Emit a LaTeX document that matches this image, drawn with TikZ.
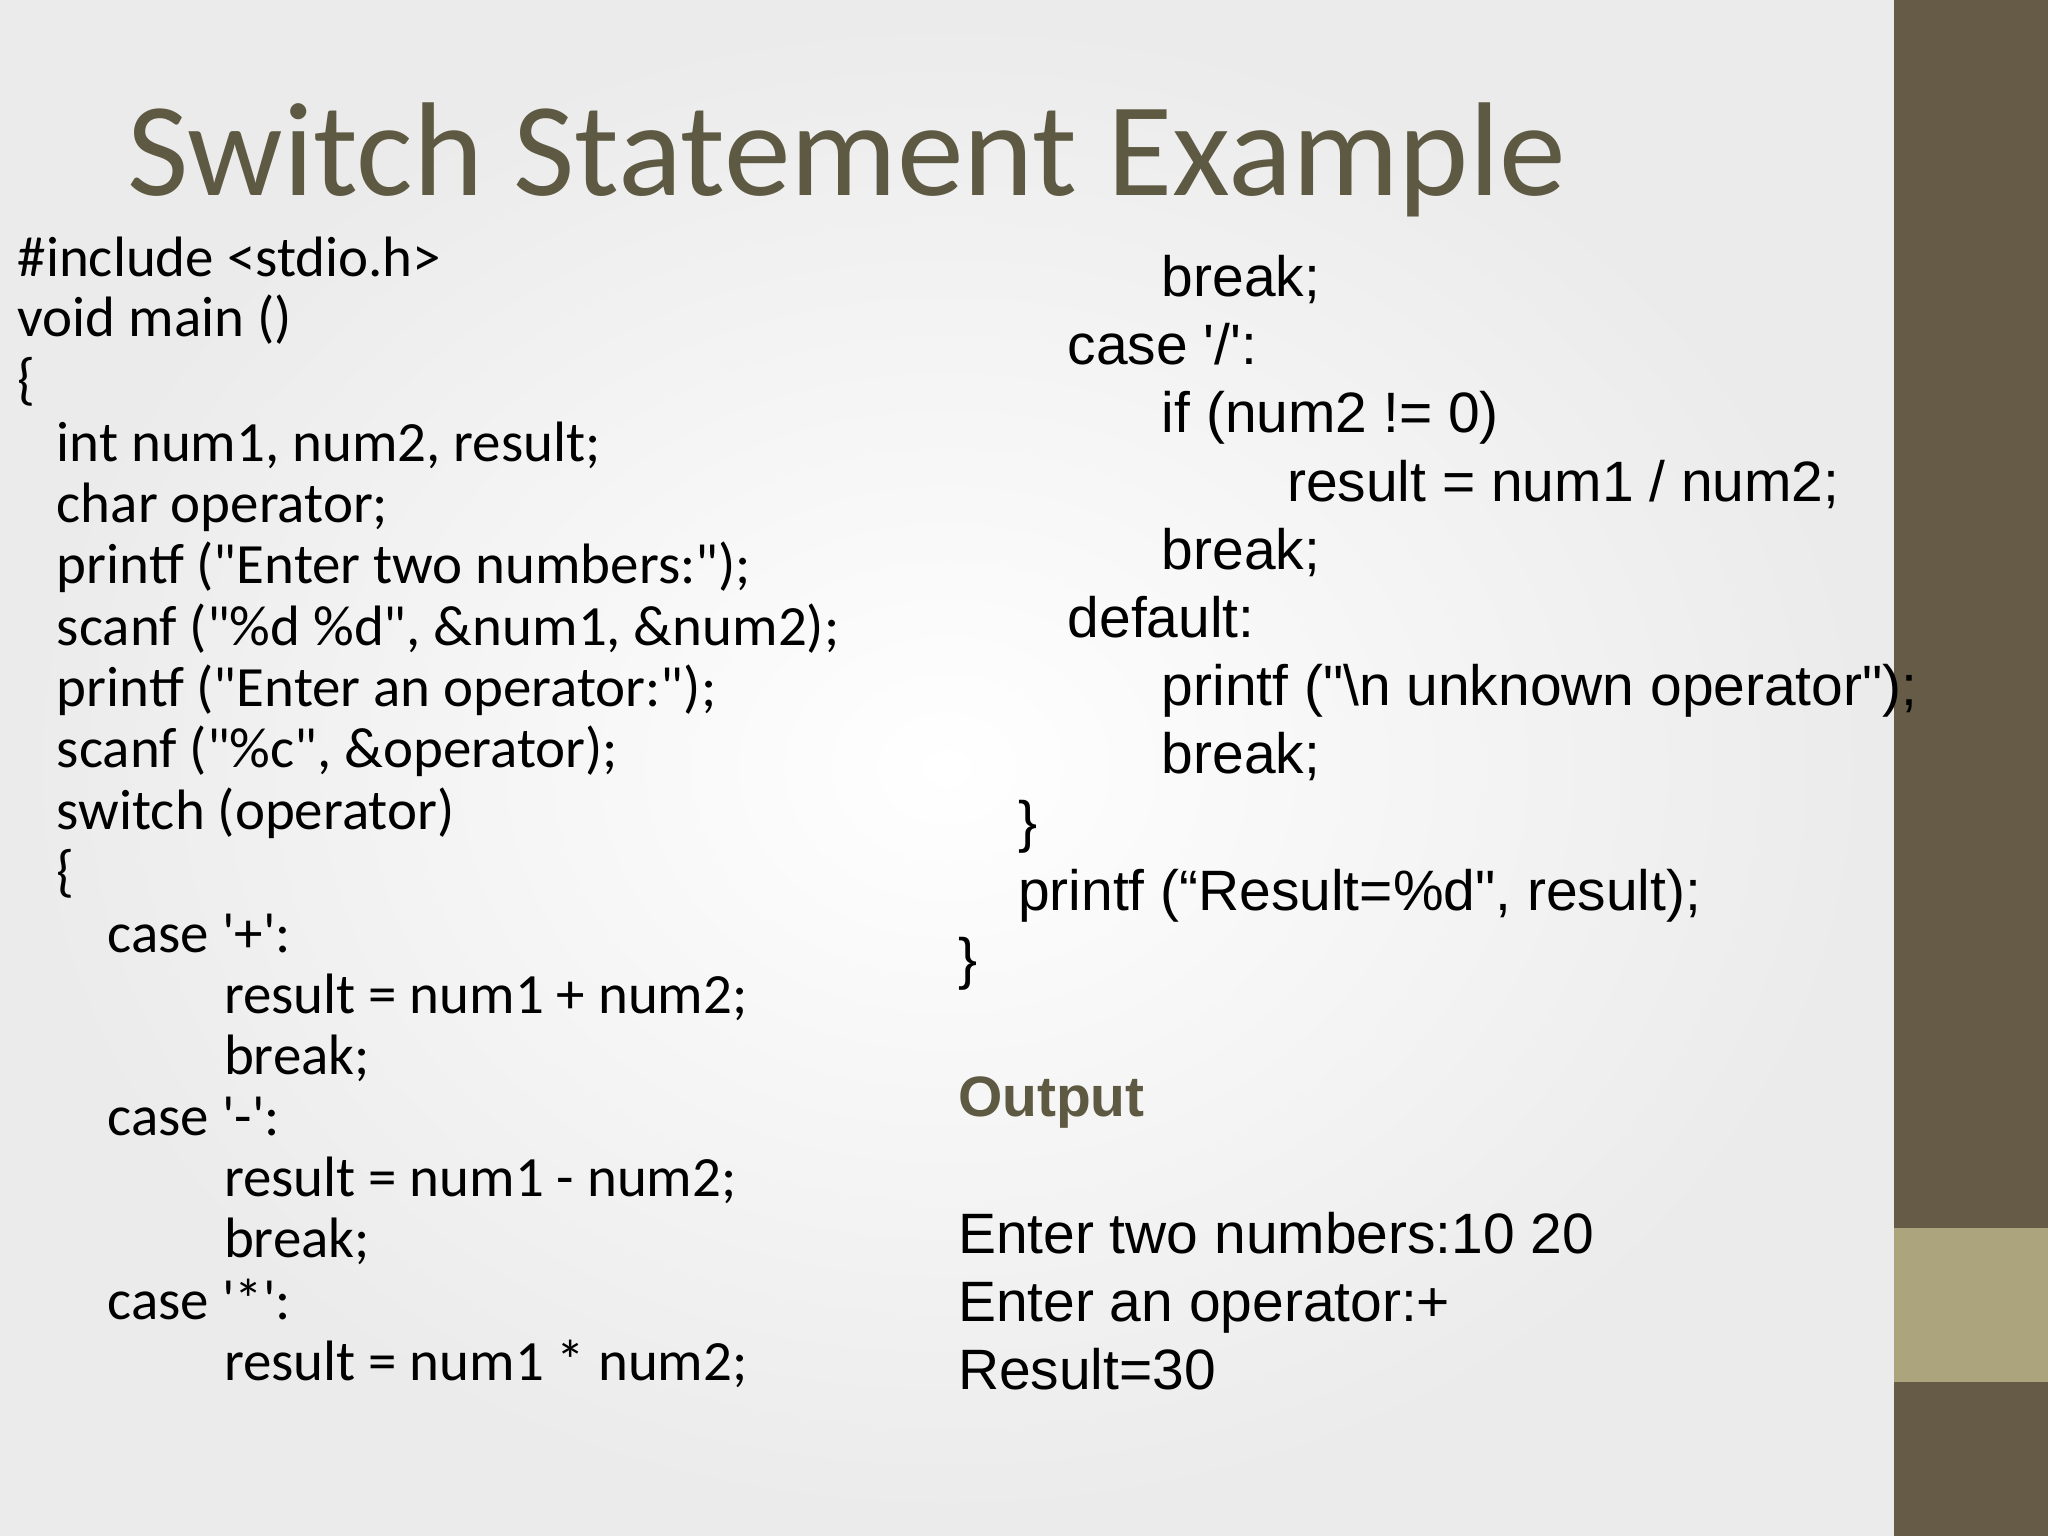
\documentclass[tikz,border=0pt]{standalone}
\usepackage{fontspec}
\newfontfamily\calfnt{Carlito}
\newfontfamily\arifnt{Liberation Sans}
\definecolor{olive}{RGB}{94,89,66}
\definecolor{barD}{RGB}{101,91,70}
\definecolor{barL}{RGB}{172,164,124}
\newcommand{\myq}{\textquotesingle}
\begin{document}
\begin{tikzpicture}[x=0.013061cm,y=-0.013061cm,
  cl/.style={anchor=base west,inner sep=0,font=\calfnt\fontsize{16.2pt}{19pt}\selectfont},
  cr/.style={anchor=base west,inner sep=0,font=\arifnt\fontsize{16.2pt}{19pt}\selectfont}]
\useasboundingbox (0,0) rectangle (1568,1176);
\shade[inner color=white,outer color=black!8] (0,0) rectangle (1450,1176);
\fill[barD] (1450,0) rectangle (1568,1176);
\fill[barL] (1450,940) rectangle (1568,1058);
\node[anchor=base west,inner sep=0,text=olive,font=\calfnt\fontsize{38pt}{44pt}\selectfont] (title) at (97,150) {Switch Statement Example};
\node[cl] (l1) at (13,212) {\#include <stdio.h>};
\node[cl] (l2) at (13,258) {void main ()};
\node[cl] (l3) at (13,305) {\{};
\node[cl] (l4) at (43,353) {int num1, num2, result;};
\node[cl] (l5) at (43,400) {char operator;};
\node[cl] (l6) at (43,447) {printf ("Enter two numbers:");};
\node[cl] (l7) at (43,494) {scanf ("\%d \%d", \&num1, \&num2);};
\node[cl] (l8) at (43,541) {printf ("Enter an operator:");};
\node[cl] (l9) at (43,588) {scanf ("\%c", \&operator);};
\node[cl] (l10) at (43,635) {switch (operator)};
\node[cl] (l11) at (43,682) {\{};
\node[cl] (l12) at (82,729) {case \myq+\myq:};
\node[cl] (l13) at (171,776) {result = num1 + num2;};
\node[cl] (l14) at (171,823) {break;};
\node[cl] (l15) at (82,869) {case \myq-\myq:};
\node[cl] (l16) at (171,916) {result = num1 - num2;};
\node[cl] (l17) at (171,963) {break;};
\node[cl] (l18) at (82,1010) {case \myq*\myq:};
\node[cl] (l19) at (171,1057) {result = num1 * num2;};
\node[cr] (r1) at (889,227) {break;};
\node[cr] (r2) at (817,279) {case \myq/\myq:};
\node[cr] (r3) at (889,331) {if (num2 != 0)};
\node[cr] (r4) at (985,384) {result = num1 / num2;};
\node[cr] (r5) at (889,436) {break;};
\node[cr] (r6) at (817,488) {default:};
\node[cr] (r7) at (889,540) {printf ("\textbackslash n unknown operator");};
\node[cr] (r8) at (889,592) {break;};
\node[cr] (r9) at (779,644) {\}};
\node[cr] (r10) at (779,697) {printf (“Result=\%d", result);};
\node[cr] (r11) at (733,749) {\}};
\node[cr,font=\arifnt\bfseries\fontsize{16.2pt}{19pt}\selectfont,text=olive] (out) at (733,855) {Output};
\node[cr] (o1) at (733,960) {Enter two numbers:10 20};
\node[cr] (o2) at (733,1012) {Enter an operator:+};
\node[cr] (o3) at (733,1064) {Result=30};
\end{tikzpicture}
\end{document}
